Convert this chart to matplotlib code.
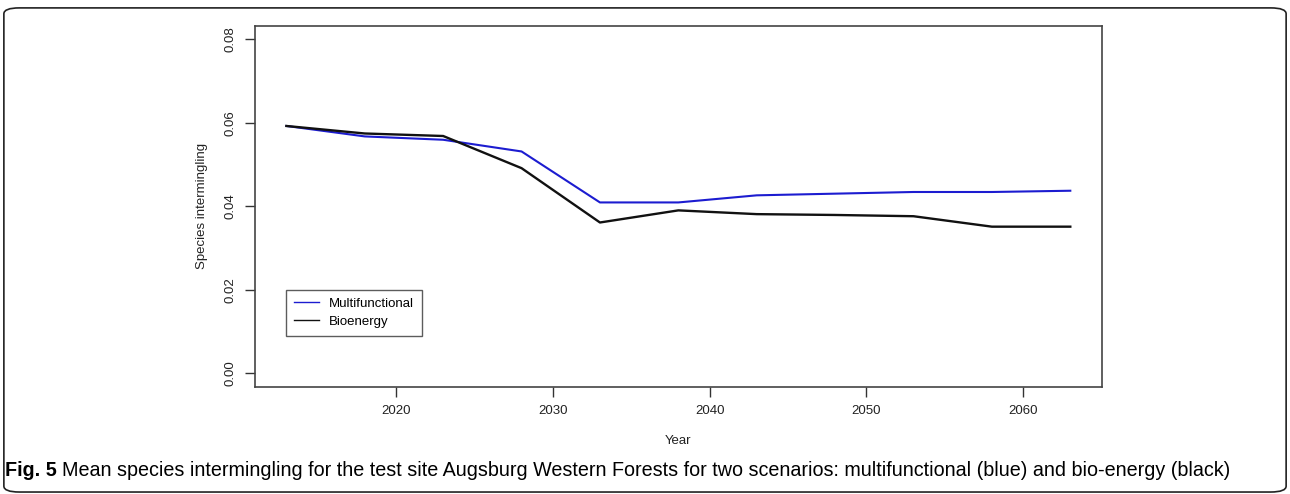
import matplotlib.pyplot as plt
from matplotlib.patches import FancyBboxPatch

# Data
years = [2013, 2018, 2023, 2028, 2033, 2038, 2043, 2048, 2053, 2058, 2063]
multifunctional = [0.0592, 0.0567, 0.0559, 0.0531, 0.0409, 0.0409, 0.0426, 0.0430, 0.0434, 0.0434, 0.0437]
bioenergy = [0.0592, 0.0574, 0.0568, 0.0491, 0.0361, 0.0390, 0.0381, 0.0379, 0.0376, 0.0351, 0.0351]
x_ticks = [2020, 2030, 2040, 2050, 2060]
y_ticks = [0.00, 0.02, 0.04, 0.06, 0.08]

plt.rcParams["font.family"] = ["Liberation Sans", "DejaVu Sans"]

fig = plt.figure(figsize=(12.9, 4.94), dpi=100)
ax = fig.add_axes([0.1977, 0.2172, 0.6563, 0.7308])

ax.plot(years, multifunctional, color="#1c1cd0", lw=1.5, label="Multifunctional")
ax.plot(years, bioenergy, color="#111111", lw=1.7, label="Bioenergy")

ax.set_xlim(2011, 2065)
ax.set_ylim(-0.0032, 0.0832)
ax.set_xticks(x_ticks)
ax.set_xticklabels([str(t) for t in x_ticks])
ax.set_yticks(y_ticks)
ax.set_yticklabels([f"{t:.2f}" for t in y_ticks], rotation=90, va="center")
ax.tick_params(direction="out", length=7, width=1, colors="#333333",
               labelsize=9.5, labelcolor="#222222", pad=6)
for s in ax.spines.values():
    s.set_color("#444444")
    s.set_linewidth(1.2)

ax.set_xlabel("Year", fontsize=9.5, color="#222222", labelpad=13)
ax.set_ylabel("Species intermingling", fontsize=9.5, color="#222222", labelpad=12)

leg = ax.legend(loc="upper left", bbox_to_anchor=(0.0366, 0.268), fontsize=9.5,
                frameon=True, fancybox=False, handlelength=1.9, handletextpad=0.75,
                borderpad=0.6, labelspacing=0.4, borderaxespad=0)
leg.get_frame().set_edgecolor("#333333")
leg.get_frame().set_linewidth(1.0)
for line in leg.get_lines():
    line.set_linewidth(1.0)

# Outer rounded frame
frame = FancyBboxPatch((0.003, 0.004), 0.994, 0.98, boxstyle="round,pad=0,rounding_size=0.012",
                       transform=fig.transFigure, fill=False, edgecolor="#222222", lw=1.2)
fig.patches.append(frame)

cap_size = 14.2
t1 = fig.text(0.004, 0.036, "Fig. 5", fontsize=cap_size, fontweight="bold", va="baseline")
fig.canvas.draw()
bb = t1.get_window_extent()
x0 = (bb.x1 + 5) / fig.bbox.width
fig.text(x0, 0.036, "Mean species intermingling for the test site Augsburg Western Forests "
         "for two scenarios: multifunctional (blue) and bio-energy (black)",
         fontsize=cap_size, va="baseline")

fig.savefig("out.png", dpi=100)
